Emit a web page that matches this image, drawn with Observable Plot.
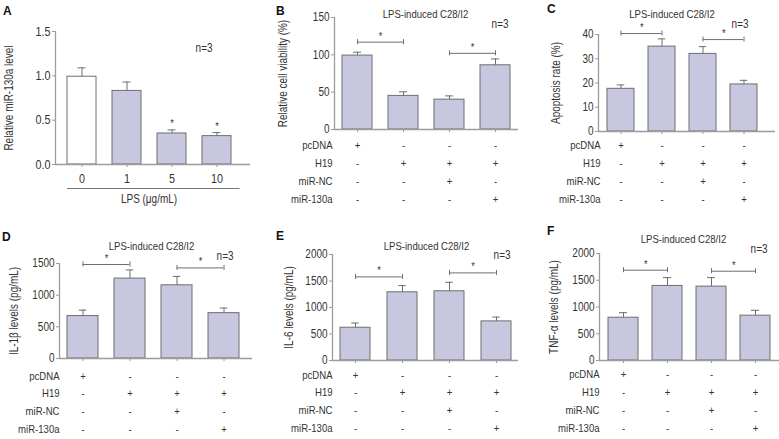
<!DOCTYPE html>
<html><head><meta charset="utf-8">
<script src="https://cdn.jsdelivr.net/npm/d3@7"></script>
<script src="https://cdn.jsdelivr.net/npm/@observablehq/plot@0.6"></script>
<style>
body{margin:0;background:#fff;}
#fig{position:relative;width:779px;height:439px;overflow:hidden;background:#fff;}
.panel{position:absolute;}
.letter{position:absolute;font:bold 12px 'Liberation Sans',Arial,sans-serif;color:#111;line-height:12px;}
</style></head><body><div id="fig"></div>
<script>
// ---------- data ----------
const doses = ["0", "1", "5", "10"];
const mirLevel = [0.99, 0.83, 0.35, 0.32];
const mirLevelErr = [0.10, 0.10, 0.04, 0.04];
const mirLevelStars = ["", "", "*", "*"];

const groups = ["pcDNA", "H19", "H19+miR-NC", "H19+miR-130a"];
const conditions = ["pcDNA", "H19", "miR-NC", "miR-130a"];
const conditionSigns = [
  ["+", "-", "-", "-"],
  ["-", "+", "+", "+"],
  ["-", "-", "+", "-"],
  ["-", "-", "-", "+"]
];

const viability = [99, 45, 40, 86];
const viabilityErr = [4.5, 5.5, 5, 8.5];
const viabilityBrackets = [[0, 1, 117], [2, 3, 102]];

const apoptosis = [17.6, 35.0, 32.0, 19.4];
const apoptosisErr = [1.6, 3.2, 3.0, 1.7];
const apoptosisBrackets = [[0, 1, 40.4], [2, 3, 37.9]];

const il1b = [670, 1262, 1156, 716];
const il1bErr = [94, 136, 140, 81];
const il1bBrackets = [[0, 1, 1484], [2, 3, 1430]];

const il6 = [618, 1287, 1306, 738];
const il6Err = [89, 126, 170, 82];
const il6Brackets = [[0, 1, 1577], [2, 3, 1653]];

const tnfa = [800, 1394, 1381, 838];
const tnfaErr = [94, 156, 169, 100];
const tnfaBrackets = [[0, 1, 1688], [2, 3, 1669]];

const panelTitle = "LPS-induced C28/I2";
const nLabel = "n=3";

// ---------- styles ----------
const FONT = "'Liberation Sans',Arial,sans-serif";
const NARROW = 0.83; // horizontal condensing to mimic a narrow face
const lavender = "#c7c7e0";
const edge = "#6e6e6e";
const axisGray = "#9c9c9c";
const textGray = "#333";

function band(range, n, pad) {
  const step = (range[1] - range[0]) / (n - pad);
  return {step, bw: step * (1 - pad)};
}

function makePanel(cfg) {
  const L = cfg.layout;
  const cats = cfg.cats;
  const data = cats.map((c, i) => ({group: c, value: cfg.values[i], upper: cfg.values[i] + cfg.errors[i], star: cfg.stars ? cfg.stars[i] : ""}));
  const {step, bw} = band(L.band, cats.length, L.pad);
  const cap = (bw - 8) / 2;
  const frameW = L.width - L.ml - L.mr;
  const marks = [
    Plot.barY(data, {x: "group", y: "value", fill: cfg.whiteFirst ? (d, i) => (i === 0 ? "white" : lavender) : lavender, stroke: edge, strokeWidth: 1}),
    Plot.ruleX(data, {x: "group", y1: "value", y2: "upper", stroke: edge}),
    Plot.tickY(data, {x: "group", y: "upper", stroke: edge, insetLeft: cap, insetRight: cap}),
    Plot.ruleY([cfg.yDomain[0]], {stroke: axisGray, strokeWidth: 1.3}),
    Plot.ruleX([cfg.yDomain], {x: null, y1: (d) => d[0], y2: (d) => d[1], dx: -frameW / 2, stroke: axisGray, strokeWidth: 1.3}),
    Plot.axisY({ticks: cfg.yTicks, tickFormat: cfg.yFormat, label: null, tickSize: 3, tickPadding: 2, stroke: axisGray, fill: textGray, fontSize: L.tickFont}),
    Plot.axisX({label: null, tickSize: 3, stroke: axisGray, fill: textGray, tickFormat: cfg.xLabels ? (d) => d : () => "", tickPadding: L.xPad || 3, fontSize: L.xFont || 11}),
    Plot.text([cfg.ylabel], {text: (d) => d, frameAnchor: "left", textAnchor: "middle", rotate: -90, dx: L.ylab, fill: textGray, fontSize: 12})
  ];
  if (cfg.title) marks.push(Plot.text([cfg.title], {text: (d) => d, frameAnchor: "top", dx: L.titleDx, dy: L.titleDy, fill: textGray, fontSize: 11.5}));
  marks.push(Plot.text([nLabel], {text: (d) => d, frameAnchor: "top-right", textAnchor: "end", dx: L.nDx, dy: L.nDy, fill: textGray, fontSize: 12}));
  if (cfg.stars) {
    marks.push(Plot.text(data.filter((d) => d.star), {x: "group", y: "upper", text: "star", dy: -6, fill: textGray, fontSize: 11}));
  }
  if (cfg.brackets) {
    const br = cfg.brackets.map(([a, b, y]) => ({from: cats[a], to: cats[b], y}));
    marks.push(
      Plot.ruleY(br, {x1: "from", x2: "to", y: "y", insetLeft: bw / 2, insetRight: bw / 2, stroke: edge}),
      Plot.ruleX(br, {x: "from", y1: "y", y2: "y", insetTop: -2.5, insetBottom: -2.5, stroke: edge}),
      Plot.ruleX(br, {x: "to", y1: "y", y2: "y", insetTop: -2.5, insetBottom: -2.5, stroke: edge}),
      Plot.text(br, {x: "from", y: "y", text: () => "*", dx: step / 2, dy: -6, fill: textGray, fontSize: 11})
    );
  }
  if (cfg.table) {
    conditions.forEach((cond, r) => {
      const dy = L.row0 + r * L.rowStep;
      const rows = cats.map((c, i) => ({group: c, sign: conditionSigns[r][i]}));
      marks.push(Plot.text(rows, {x: "group", text: "sign", frameAnchor: "bottom", dy, fill: textGray, fontSize: 11.5}));
      marks.push(Plot.text([cond], {text: (d) => d, frameAnchor: "bottom-left", textAnchor: "end", dx: L.rowDx, dy, fill: textGray, fontSize: 11.5}));
    });
  }
  if (cfg.extra) marks.push(...cfg.extra(cats));
  const svg = Plot.plot({
    width: L.width, height: L.height,
    marginLeft: L.ml, marginRight: L.mr, marginTop: L.mt, marginBottom: L.mb,
    x: {domain: cats, range: L.band, paddingInner: L.pad, paddingOuter: 0, axis: null},
    y: {domain: cfg.yDomain, axis: null},
    style: {fontFamily: FONT, background: "transparent", overflow: "visible"},
    marks
  });
  svg.classList.add("panel");
  svg.style.left = L.left + "px";
  svg.style.top = L.top + "px";
  return svg;
}

const fig = document.getElementById("fig");

const panels = [
  {
    cats: doses, values: mirLevel, errors: mirLevelErr, stars: mirLevelStars, whiteFirst: true, xLabels: true,
    yDomain: [0, 1.5], yTicks: [0, 0.5, 1, 1.5], yFormat: d3.format(".1f"), ylabel: "Relative miR-130a level",
    layout: {left: 0, top: 0, width: 258, height: 220, ml: 55, mr: 8, mt: 31, mb: 56, band: [65.5, 231.5], pad: 0.365,
      ylab: -46, tickFont: 13, xFont: 13, xPad: 6, nDx: -38, nDy: 12},
    extra: (cats) => [
      Plot.ruleY([0], {x1: () => cats[0], x2: () => cats[cats.length - 1], dy: 24, insetRight: -8.5, stroke: "#777"}),
      Plot.text(["LPS (μg/mL)"], {text: (d) => d, frameAnchor: "bottom", dx: -4, dy: 38, fill: textGray, fontSize: 12})
    ]
  },
  {
    cats: groups, values: viability, errors: viabilityErr, brackets: viabilityBrackets, table: true, title: panelTitle,
    yDomain: [0, 150], yTicks: [0, 50, 100, 150], yFormat: d3.format("d"), ylabel: "Relative cell viability (%)",
    layout: {left: 258, top: 0, width: 262, height: 220, ml: 76, mr: 2, mt: 17, mb: 91, band: [84, 252], pad: 0.348,
      ylab: -51, tickFont: 12, titleDx: -1, titleDy: -8, nDx: -10, nDy: 2, row0: 19, rowStep: 18, rowDx: -2}
  },
  {
    cats: groups, values: apoptosis, errors: apoptosisErr, brackets: apoptosisBrackets, table: true, title: panelTitle,
    yDomain: [0, 40], yTicks: [0, 10, 20, 30, 40], yFormat: d3.format("d"), ylabel: "Apoptosis rate (%)",
    layout: {left: 520, top: 0, width: 259, height: 220, ml: 78, mr: 4, mt: 34, mb: 89, band: [86, 238], pad: 0.337,
      ylab: -42, tickFont: 12, titleDx: -15, titleDy: -25, nDx: -27, nDy: -15, row0: 17, rowStep: 18, rowDx: 2}
  },
  {
    cats: groups, values: il1b, errors: il1bErr, brackets: il1bBrackets, table: true, title: panelTitle,
    yDomain: [0, 1500], yTicks: [0, 500, 1000, 1500], yFormat: d3.format("d"), ylabel: "IL-1β levels (pg/mL)",
    layout: {left: 0, top: 220, width: 258, height: 219, ml: 59, mr: 6, mt: 43, mb: 81, band: [67, 240], pad: 0.333,
      ylab: -45, tickFont: 12, titleDx: -4.5, titleDy: -22, nDx: -19, nDy: -12, row0: 21, rowStep: 17.7, rowDx: 0}
  },
  {
    cats: groups, values: il6, errors: il6Err, brackets: il6Brackets, table: true, title: panelTitle,
    yDomain: [0, 2000], yTicks: [0, 500, 1000, 1500, 2000], yFormat: d3.format("d"), ylabel: "IL-6 levels (pg/mL)",
    layout: {left: 258, top: 220, width: 262, height: 219, ml: 74, mr: 2, mt: 34, mb: 79, band: [82, 254], pad: 0.354,
      ylab: -43, tickFont: 12, titleDx: 1, titleDy: -13, nDx: -8, nDy: -4, row0: 18, rowStep: 17.7, rowDx: 0}
  },
  {
    cats: groups, values: tnfa, errors: tnfaErr, brackets: tnfaBrackets, table: true, title: panelTitle,
    yDomain: [0, 2000], yTicks: [0, 500, 1000, 1500, 2000], yFormat: d3.format("d"), ylabel: "TNF-α levels (pg/mL)",
    layout: {left: 520, top: 220, width: 259, height: 219, ml: 79, mr: 0, mt: 33, mb: 79, band: [87, 250], pad: 0.323,
      ylab: -45, tickFont: 12, titleDx: -6, titleDy: -19, nDx: -12, nDy: -9, row0: 17, rowStep: 18, rowDx: 0}
  }
];

panels.forEach((p) => {
  const svg = makePanel(p);
  fig.appendChild(svg);
  // condense every label horizontally (narrow typeface look)
  svg.querySelectorAll("text").forEach((t) => {
    const w = t.getComputedTextLength();
    if (w > 0) {
      t.setAttribute("textLength", (w * NARROW).toFixed(2));
      t.setAttribute("lengthAdjust", "spacingAndGlyphs");
    }
  });
});

const letters = [["A", 3, 5], ["B", 276, 5], ["C", 547, 3], ["D", 2, 231], ["E", 276, 230], ["F", 547, 225]];
letters.forEach(([t, x, y]) => {
  const d = document.createElement("div");
  d.className = "letter";
  d.textContent = t;
  d.style.left = x + "px";
  d.style.top = y + "px";
  fig.appendChild(d);
});
</script></body></html>
